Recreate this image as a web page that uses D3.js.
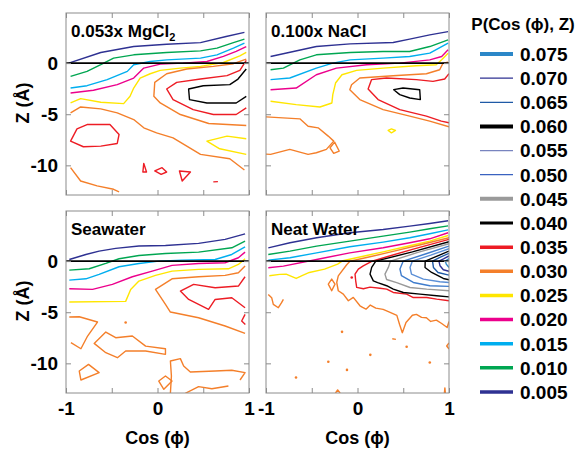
<!DOCTYPE html>
<html>
<head>
<meta charset="utf-8">
<script src="https://cdn.jsdelivr.net/npm/d3@7"></script>
<style>
body { margin: 0; background: #fff; }
text { font-family: "Liberation Sans", Arial, Helvetica, sans-serif; font-weight: bold; fill: #000; }
</style>
</head>
<body>
<div id="chart"></div>
<script>
// contour levels, top to bottom of the legend
var levels = [0.075, 0.070, 0.065, 0.060, 0.055, 0.050, 0.045, 0.040, 0.035, 0.030, 0.025, 0.020, 0.015, 0.010, 0.005];
var xTicks = [-1, -0.5, 0, 0.5, 1];
var xTickLabels = ["-1", "", "0", "", "1"];
var zTicks = [-10, -5, 0];

// contour lines: [cos(phi), Z]
var mgcl2Lines = [
  {lv: 0.005, pts: [[-0.97,0],[-0.62,1.04],[-0.26,1.62],[0.10,1.85],[0.47,2.0],[0.75,2.6],[0.95,3.0]]},
  {lv: 0.010, pts: [[-0.95,-1.3],[-0.77,-0.81],[-0.62,-0.16],[-0.48,0.49],[-0.26,0.81],[0.10,1.04],[0.47,1.2],[0.65,1.46],[0.83,2.0],[0.95,2.34]]},
  {lv: 0.015, pts: [[-0.95,-2.44],[-0.77,-2.21],[-0.55,-1.62],[-0.33,-0.81],[-0.26,-0.16],[-0.08,0.16],[0.10,0.32],[0.47,0.49],[0.65,0.81],[0.83,1.46],[0.95,1.95]]},
  {lv: 0.020, pts: [[-0.95,-2.92],[-0.70,-2.66],[-0.44,-2.11],[-0.26,-1.46],[-0.15,-0.49],[0.03,-0.10],[0.28,0],[0.54,0.16],[0.72,0.65],[0.86,1.14],[0.97,1.62]]},
  {lv: 0.025, pts: [[-0.95,-3.9],[-0.84,-3.47],[-0.62,-3.83],[-0.37,-3.96],[-0.30,-3.25],[-0.26,-2.44],[-0.19,-1.46],[-0.08,-1.04],[0.03,-0.71],[0.25,-0.49],[0.47,-0.32],[0.72,0.06],[0.90,0.71],[0.97,1.04]]},
  {lv: 0.025, pts: [[0.97,-7.40],[0.76,-7.14],[0.54,-7.63],[0.68,-8.38],[0.97,-8.93]]},
  {lv: 0.030, pts: [[-0.95,-4.87],[-0.84,-4.29],[-0.62,-4.48],[-0.44,-4.87],[-0.26,-5.52],[-0.15,-6.33],[-0.01,-6.82],[0.17,-7.31],[0.32,-8.12],[0.47,-8.93],[0.79,-9.35],[0.95,-10.45]]},
  {lv: 0.030, pts: [[0.97,0.39],[0.83,-0.06],[0.61,-0.32],[0.32,-0.58],[0.10,-1.04],[-0.03,-1.88],[-0.04,-3.25],[0.03,-3.9],[0.25,-5.03],[0.56,-5.91],[0.97,-6.10]]},
  {lv: 0.030, pts: [[-0.95,-10.23],[-0.84,-11.53],[-0.66,-12.01],[-0.48,-12.34],[-0.42,-12.60]]},
  {lv: 0.035, pts: [[0.97,0.26],[0.90,-0.71],[0.76,-1.23],[0.47,-1.56],[0.21,-1.88],[0.10,-2.53],[0.17,-3.57],[0.39,-4.55],[0.61,-5.03],[0.86,-5.03],[0.97,-4.38]]},
  {lv: 0.035, closed: true, pts: [[-0.95,-7.63],[-0.88,-6.43],[-0.77,-6.01],[-0.52,-6.01],[-0.42,-6.98],[-0.44,-7.86],[-0.62,-8.12],[-0.81,-8.18]]},
  {lv: 0.035, closed: true, pts: [[-0.15,-9.81],[-0.12,-10.65],[-0.16,-10.65]]},
  {lv: 0.035, closed: true, pts: [[-0.03,-10.55],[0.05,-10.23],[0.10,-10.65],[0.04,-10.88]]},
  {lv: 0.035, closed: true, pts: [[0.24,-10.55],[0.36,-10.65],[0.27,-11.53]]},
  {lv: 0.035, pts: [[0.61,-11.62],[0.66,-11.59]]},
  {lv: 0.040, pts: [[0.97,-0.58],[0.88,-1.56],[0.79,-2.11],[0.50,-2.21],[0.34,-2.53],[0.35,-3.57],[0.54,-3.90],[0.86,-3.90],[0.97,-3.25]]}
];

var naclLines = [
  {lv: 0.005, pts: [[-0.95,0.65],[-0.70,1.14],[-0.45,1.62],[-0.08,1.88],[0.39,2.01],[0.57,2.34],[0.79,2.76],[0.99,3.08]]},
  {lv: 0.010, pts: [[-0.95,-0.65],[-0.81,-0.49],[-0.63,0.32],[-0.45,0.81],[-0.08,1.04],[0.28,1.14],[0.57,1.14],[0.79,1.62],[0.99,2.27]]},
  {lv: 0.015, pts: [[-0.95,-1.62],[-0.74,-1.46],[-0.45,-0.49],[-0.27,0],[-0.08,0.32],[0.28,0.49],[0.57,0.65],[0.79,0.97],[0.99,1.95]]},
  {lv: 0.020, pts: [[-0.95,-2.60],[-0.67,-2.44],[-0.45,-1.14],[-0.23,-0.49],[0.10,-0.16],[0.46,0],[0.79,0.32],[0.92,0.65],[0.99,1.30]]},
  {lv: 0.025, pts: [[-0.95,-3.73],[-0.67,-4.06],[-0.41,-4.29],[-0.28,-3.90],[-0.27,-3.08],[-0.24,-1.95],[-0.17,-1.14],[-0.01,-0.71],[0.28,-0.49],[0.64,-0.26],[0.86,-0.16],[0.92,0.32],[0.99,0.97]]},
  {lv: 0.025, closed: true, pts: [[0.335,-6.59],[0.371,-6.43],[0.415,-6.59],[0.371,-6.82]]},
  {lv: 0.030, pts: [[0.99,0.1],[0.935,0],[0.898,-0.65],[0.753,-1.04],[0.389,-1.23],[0.025,-1.46],[-0.065,-2.11],[-0.084,-2.60],[0.025,-3.57],[0.28,-4.55],[0.571,-5.19],[0.789,-5.68],[1.0,-6.23]]},
  {lv: 0.030, pts: [[-1.0,-5.26],[-0.63,-5.45],[-0.54,-6.17],[-0.43,-6.33],[-0.32,-7.14],[-0.26,-7.63],[-0.34,-8.44],[-0.45,-8.77],[-0.54,-8.93],[-0.74,-8.44],[-0.95,-8.93],[-1.0,-8.9]]},
  {lv: 0.030, closed: true, pts: [[-0.30,-8.28],[-0.25,-7.73],[-0.20,-8.60],[-0.26,-8.83]]},
  {lv: 0.035, pts: [[1.0,-1.04],[0.953,-1.56],[0.825,-1.79],[0.644,-1.62],[0.316,-1.46],[0.153,-1.62],[0.116,-2.53],[0.225,-3.57],[0.462,-4.55],[0.753,-5.19],[0.916,-5.68],[1.0,-5.84]]},
  {lv: 0.040, closed: true, pts: [[0.396,-2.60],[0.498,-2.44],[0.68,-2.60],[0.687,-3.57],[0.571,-3.41],[0.462,-3.08]]}
];

var seawaterLines = [
  {lv: 0.005, pts: [[-0.964,0.16],[-0.783,0.65],[-0.638,0.98],[-0.457,1.24],[-0.203,1.47],[0.087,1.53],[0.449,1.73],[0.739,2.12],[0.957,2.67]]},
  {lv: 0.010, pts: [[-0.964,-0.88],[-0.746,-0.75],[-0.565,-0.23],[-0.42,0.23],[-0.203,0.55],[0.087,0.75],[0.449,0.88],[0.812,1.30],[0.957,1.95]]},
  {lv: 0.015, pts: [[-0.964,-1.86],[-0.783,-1.73],[-0.638,-1.30],[-0.42,-0.55],[-0.203,-0.23],[0.014,0],[0.268,0.10],[0.630,0.16],[0.812,0.65],[0.957,1.40]]},
  {lv: 0.020, pts: [[-0.964,-2.70],[-0.71,-2.77],[-0.493,-2.28],[-0.275,-1.53],[-0.058,-0.98],[0.159,-0.42],[0.449,-0.23],[0.739,-0.16],[0.884,0.33],[0.957,0.88]]},
  {lv: 0.025, pts: [[-0.964,-4.0],[-0.348,-3.94],[-0.293,-2.77],[-0.203,-1.95],[-0.022,-1.40],[0.159,-0.98],[0.449,-0.81],[0.775,-0.75],[0.884,-0.33],[0.957,0.23]]},
  {lv: 0.030, pts: [[0.957,-0.49],[0.884,-1.14],[0.739,-1.40],[0.449,-1.53],[0.159,-1.73],[-0.022,-2.77],[0.087,-4.23],[0.141,-4.98],[0.449,-5.54],[0.739,-6.35],[0.957,-7.07]]},
  {lv: 0.030, pts: [[-0.964,-5.47],[-0.855,-5.44],[-0.656,-5.96],[-0.764,-7.33],[-0.837,-8.57],[-0.946,-7.98]]},
  {lv: 0.030, closed: true, pts: [[-0.692,-8.05],[-0.565,-6.94],[-0.457,-7.49],[-0.275,-7.33],[-0.13,-8.31],[0.087,-8.57],[0.087,-9.12],[-0.13,-8.79],[-0.348,-8.79],[-0.438,-9.45],[-0.565,-8.96]]},
  {lv: 0.030, closed: true, pts: [[-0.855,-10.75],[-0.754,-10.10],[-0.638,-10.91],[-0.837,-11.63]]},
  {lv: 0.030, pts: [[0.141,-12.93],[0.152,-11.24],[0.141,-9.77],[0.25,-9.54],[0.286,-10.26],[0.359,-10.85],[0.63,-10.75],[0.812,-10.68],[0.957,-10.91],[0.902,-11.63]]},
  {lv: 0.030, closed: true, pts: [[0.014,-11.73],[0.087,-11.24],[0.159,-11.73],[0.069,-12.54]]},
  {lv: 0.030, pts: [[0.304,-12.93],[0.449,-12.28],[0.594,-12.48],[0.775,-12.22]]},
  {lv: 0.030, pts: [[-0.348,-6.0]]},
  {lv: 0.035, pts: [[0.957,-1.53],[0.884,-2.44],[0.63,-2.61],[0.395,-2.28],[0.25,-2.93],[0.341,-3.75],[0.558,-4.72],[0.63,-3.75],[0.812,-3.58],[0.957,-4.56]]},
  {lv: 0.035, pts: [[0.957,-5.21],[0.92,-5.86],[0.96,-6.19]]}
];

var neatLines = [
  {lv: 0.005, pts: [[-0.975,1.3],[-0.738,1.79],[-0.447,2.28],[-0.084,2.77],[0.28,3.09],[0.571,3.42],[0.789,3.68],[0.99,3.95]]},
  {lv: 0.010, pts: [[-0.975,0.65],[-0.738,0.98],[-0.447,1.47],[-0.084,1.95],[0.28,2.44],[0.571,2.83],[0.789,3.16],[0.99,3.45]]},
  {lv: 0.015, pts: [[-0.975,0.10],[-0.738,0.33],[-0.447,0.81],[-0.084,1.40],[0.28,1.86],[0.571,2.28],[0.789,2.67],[0.99,3.05]]},
  {lv: 0.020, pts: [[-0.975,-0.65],[-0.81,-0.49],[-0.447,0.16],[-0.084,0.81],[0.28,1.30],[0.571,1.79],[0.789,2.18],[0.99,2.77]]},
  {lv: 0.025, pts: [[-0.964,-1.43],[-0.85,-1.3],[-0.78,-1.27],[-0.67,-1.7],[-0.6,-1.4],[-0.526,-1.11],[-0.36,-0.78],[-0.217,-0.29],[-0.16,0.04],[0.1,0.55],[0.28,0.9],[0.571,1.5],[0.789,1.95],[0.99,2.5]]},
  {lv: 0.030, pts: [[1.0,2.29],[0.7,1.62],[0.4,0.97],[0.1,0.35],[-0.08,0],[-0.118,-0.36],[-0.21,-1.44],[-0.227,-2.09],[-0.21,-2.9],[-0.155,-3.23],[-0.1,-3.88],[-0.046,-3.55],[0.027,-4.37],[0.056,-4.53],[0.093,-4.7],[0.14,-4.3],[0.2,-4.6],[0.28,-4.72],[0.35,-5.0],[0.43,-5.31],[0.46,-6.2],[0.49,-7.0],[0.53,-6.0],[0.6,-5.3],[0.644,-5.21],[0.7,-5.5],[0.753,-5.54],[0.8,-5.9],[0.862,-5.77],[0.92,-6.1],[0.98,-6.5],[1.0,-5.9]]},
  {lv: 0.030, closed: true, pts: [[-0.319,-2.25],[-0.282,-1.76],[-0.246,-2.25],[-0.282,-2.9]]},
  {lv: 0.030, pts: [[-0.975,-3.26],[-0.938,-3.58],[-0.92,-4.23],[-0.865,-4.56],[-0.83,-4.07],[-0.81,-3.75]]},
  {lv: 0.030, pts: [[0.38,-7.6],[0.42,-7.65]]},
  {lv: 0.030, pts: [[-0.24,-12.9],[-0.217,-12.6],[-0.19,-12.9]]},
  {lv: 0.030, pts: [[0.95,-12.9],[0.955,-12.4],[0.96,-12.9]]},
  {lv: 0.030, pts: [[1.0,-8.0],[0.975,-8.3],[1.0,-8.6]]},
  {lv: 0.030, pts: [[-0.169,-6.92]]},
  {lv: 0.030, pts: [[0.537,-8.38]]},
  {lv: 0.030, pts: [[0.14,-9.17]]},
  {lv: 0.030, pts: [[-0.319,-9.85]]},
  {lv: 0.030, pts: [[-0.115,-10.64]]},
  {lv: 0.030, pts: [[0.79,-9.92]]},
  {lv: 0.030, pts: [[-0.672,-11.38]]},
  {lv: 0.035, pts: [[1.0,2.13],[0.6,1.15],[0.35,0.5],[0.16,0],[0.063,-0.46],[0.009,-0.78],[-0.027,-1.27],[-0.02,-1.9],[-0.009,-2.57],[0.064,-2.7],[0.137,-2.55],[0.246,-2.65],[0.319,-2.74],[0.391,-3.07],[0.537,-3.23],[0.61,-3.56],[0.756,-3.56],[0.865,-3.72],[1.0,-3.88]]},
  {lv: 0.035, pts: [[-0.063,-1.6]]},
  {lv: 0.040, pts: [[1.0,1.9],[0.6,0.9],[0.2,0],[0.155,-0.62],[0.137,-1.27],[0.173,-1.93],[0.22,-2.1],[0.319,-2.41],[0.391,-2.74],[0.501,-3.07],[0.683,-3.23],[0.865,-3.39],[1.0,-3.5]]},
  {lv: 0.045, pts: [[1.0,1.7],[0.66,0.85],[0.36,0],[0.337,-0.62],[0.3,-1.27],[0.318,-1.8],[0.428,-2.1],[0.574,-2.58],[0.756,-2.74],[1.0,-2.9]]},
  {lv: 0.050, pts: [[1.0,1.47],[0.75,0.72],[0.5,0],[0.464,-0.78],[0.48,-1.43],[0.61,-2.09],[0.79,-2.41],[1.0,-2.47]]},
  {lv: 0.055, pts: [[1.0,1.21],[0.8,0.58],[0.6,0],[0.574,-0.62],[0.59,-1.27],[0.72,-1.76],[0.9,-2.02],[1.0,-2.09]]},
  {lv: 0.060, pts: [[1.0,0.98],[0.87,0.48],[0.74,0],[0.738,-0.62],[0.81,-1.11],[0.938,-1.7],[1.0,-1.83]]},
  {lv: 0.065, pts: [[1.0,0.76],[0.9,0.36],[0.82,0],[0.83,-0.62],[0.88,-1.11],[1.0,-1.37]]},
  {lv: 0.070, pts: [[1.0,0.5],[0.94,0.22],[0.89,0],[0.902,-0.46],[0.938,-0.85],[1.0,-1.0]]},
  {lv: 0.075, pts: [[1.0,0.24],[0.96,0],[0.97,-0.3],[1.0,-0.62]]}
];

// styling per level
var levelColor = {
  "0.075": "#2b87c8", "0.070": "#2e3192", "0.065": "#1f5aa6", "0.060": "#000000",
  "0.055": "#7884bf", "0.050": "#3a62c0", "0.045": "#9a9a9a", "0.040": "#000000",
  "0.035": "#ed1c24", "0.030": "#f47f2a", "0.025": "#ffe600", "0.020": "#ec008c",
  "0.015": "#00aeef", "0.010": "#00a651", "0.005": "#2e3192"
};
var plotColor = {"0.055": "#5b8fd6", "0.050": "#3f7ccc"};
var legendWidth = {
  "0.075": 4, "0.070": 1.2, "0.065": 1.2, "0.060": 4, "0.055": 1.2, "0.050": 1.2,
  "0.045": 4, "0.040": 3
};

var W = 584, H = 450, PW = 183, PH = 182;
var panels = [
  {title: "0.053x MgCl", sub: "2", lines: mgcl2Lines, x0: 66, y0: 13, left: true, bottom: false},
  {title: "0.100x NaCl", sub: "", lines: naclLines, x0: 266, y0: 13, left: false, bottom: false},
  {title: "Seawater", sub: "", lines: seawaterLines, x0: 66, y0: 211, left: true, bottom: true},
  {title: "Neat Water", sub: "", lines: neatLines, x0: 266, y0: 211, left: false, bottom: true}
];

var svg = d3.select("#chart").append("svg").attr("width", W).attr("height", H);

function strokeOf(lv) {
  var k = lv.toFixed(3);
  return plotColor[k] || levelColor[k];
}

panels.forEach(function(p, i) {
  var x = d3.scaleLinear().domain([-1, 1]).range([p.x0, p.x0 + PW]);
  var y = d3.scaleLinear().domain([-12.9, 4.9]).range([p.y0 + PH, p.y0]);
  var g = svg.append("g");

  svg.append("clipPath").attr("id", "clip" + i).append("rect")
    .attr("x", p.x0).attr("y", p.y0).attr("width", PW).attr("height", PH);

  var line = d3.line().x(function(d) { return x(d[0]); }).y(function(d) { return y(d[1]); });
  var cg = g.append("g").attr("clip-path", "url(#clip" + i + ")");
  var sorted = p.lines.slice().sort(function(a, b) { return a.lv - b.lv; });

  cg.selectAll("path").data(sorted.filter(function(c) { return c.pts.length > 1; }))
    .enter().append("path")
    .attr("d", function(c) { return line(c.pts) + (c.closed ? "Z" : ""); })
    .attr("fill", "none")
    .attr("stroke", function(c) { return strokeOf(c.lv); })
    .attr("stroke-width", 1.4)
    .attr("stroke-linejoin", "round");

  cg.selectAll("circle").data(sorted.filter(function(c) { return c.pts.length === 1; }))
    .enter().append("circle")
    .attr("cx", function(c) { return x(c.pts[0][0]); })
    .attr("cy", function(c) { return y(c.pts[0][1]); })
    .attr("r", 1.3)
    .attr("fill", function(c) { return strokeOf(c.lv); });

  // zero line
  g.append("line").attr("x1", x(-1)).attr("x2", x(1)).attr("y1", y(0)).attr("y2", y(0))
    .attr("stroke", "#000").attr("stroke-width", 1.6);

  // frame
  g.append("rect").attr("x", p.x0).attr("y", p.y0).attr("width", PW).attr("height", PH)
    .attr("fill", "none").attr("stroke", "#8c8c8c").attr("stroke-width", 1);

  // inward ticks on all four sides
  var axB = d3.axisBottom(x).tickValues(xTicks).tickSize(-5).tickPadding(9)
    .tickFormat(function(d, k) { return p.bottom ? xTickLabels[k] : ""; });
  var axT = d3.axisTop(x).tickValues(xTicks).tickSize(-5).tickFormat("");
  var axL = d3.axisLeft(y).tickValues(zTicks).tickSize(-5).tickPadding(8)
    .tickFormat(function(d) { return p.left ? String(d) : ""; });
  var axR = d3.axisRight(y).tickValues(zTicks).tickSize(-5).tickFormat("");

  [[axB, "translate(0," + (p.y0 + PH) + ")"], [axT, "translate(0," + p.y0 + ")"],
   [axL, "translate(" + p.x0 + ",0)"], [axR, "translate(" + (p.x0 + PW) + ",0)"]].forEach(function(a) {
    var ag = g.append("g").attr("transform", a[1]).call(a[0]);
    ag.select(".domain").remove();
    ag.selectAll(".tick line").attr("stroke", "#8c8c8c");
    ag.selectAll(".tick text").style("font-size", "19px").attr("fill", "#000");
  });

  // panel title
  var t = g.append("text").attr("x", p.x0 + 5).attr("y", p.y0 + 24).style("font-size", "17px").text(p.title);
  if (p.sub) t.append("tspan").attr("dy", 4).style("font-size", "11px").text(p.sub);

  if (p.bottom) {
    g.append("text").attr("x", (x(-1) + x(1)) / 2).attr("y", 444).attr("text-anchor", "middle")
      .style("font-size", "18px").text("Cos (\u03D5)");
  }
  if (p.left) {
    g.append("text").attr("transform", "translate(29," + (p.y0 + 90) + ") rotate(-90)")
      .attr("text-anchor", "middle").style("font-size", "18px").text("Z (\u00C5)");
  }
});

// legend
var lg = svg.append("g");
lg.append("text").attr("x", 523).attr("y", 30).attr("text-anchor", "middle")
  .style("font-size", "17px").text("P(Cos (\u03D5), Z)");
var ly = d3.scaleLinear().domain([0, levels.length - 1]).range([54, 392]);
var rows = lg.selectAll("g.row").data(levels).enter().append("g").attr("class", "row")
  .attr("transform", function(d, k) { return "translate(0," + ly(k) + ")"; });
rows.append("line").attr("x1", 480).attr("x2", 513)
  .attr("stroke", function(d) { return levelColor[d.toFixed(3)]; })
  .attr("stroke-width", function(d) { return legendWidth[d.toFixed(3)] || 3.5; });
rows.append("text").attr("x", 520).attr("dy", "0.36em").style("font-size", "19px")
  .text(function(d) { return d.toFixed(3); });
</script>
</body>
</html>
